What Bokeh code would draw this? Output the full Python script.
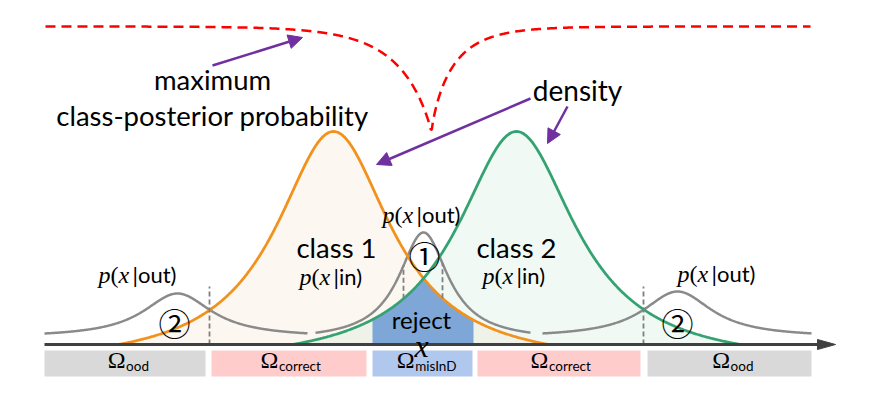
import numpy as np
from bokeh.plotting import figure
from bokeh.models import Range1d, Arrow, NormalHead
from bokeh.core.properties import value
from bokeh.embed import file_html
from bokeh.resources import INLINE

# ---------------- data (schematic densities, x in diagram units) ----------------
class_names = ["class 1", "class 2"]
class_centers = [333, 516]
class_peaks = [213, 213]
class_scales = [70, 72]
class_supports = [215, 224]

out_centers = [177, 423, 677]
out_peaks = [51, 112, 53]
out_scales = [42, 30, 42]
out_floors = [7, 4, 7]
out_left = [44, 315, 542]
out_right = [307, 530, 811]

region_names = ["ood", "correct", "misInD", "correct", "ood"]
region_start = [44, 211, 372, 477, 647]
region_end = [205, 366, 472, 640, 811]

reject_interval = [372, 473]
ood_thresholds = [209, 643]
mis_thresholds = [403, 442]

posterior_cusp = 431
posterior_top = 318
posterior_depth = 106
posterior_scales = [34, 22]
posterior_shapes = [0.9, 0.83]
posterior_span = [45, 810]

# ---------------- styles ----------------
ORANGE = "#f2911b"
GREEN = "#35a272"
ORANGE_FILL = "#f4d7b4"
GREEN_FILL = "#b5e3c8"
GRAY = "#8a8a8a"
PURPLE = "#7030a0"
REJECT = "#7ea6d7"
AXIS = "#404040"
region_colors = {"ood": "#d9d9d9", "correct": "#ffcccc", "misInD": "#b1c8ee"}
SANS = "Lato"
SERIF = "Liberation Serif"
TY = 8  # vertical text offset


def class_density(x, c, peak, scale, support):
    k = 1.0 / (1.0 + (support / scale) ** 2)
    a = peak / (1.0 - k)
    y = a / (1.0 + ((x - c) / scale) ** 2) - k * a
    return np.clip(y, 0, None)


def out_density(x, c, peak, scale, floor):
    return floor + (peak - floor) / (1.0 + ((x - c) / scale) ** 2)


def f_class(i, x):
    return class_density(x, class_centers[i], class_peaks[i], class_scales[i], class_supports[i])


def f_out(i, x):
    return out_density(x, out_centers[i], out_peaks[i], out_scales[i], out_floors[i])


p = figure(width=855, height=380, x_range=Range1d(0, 855), y_range=Range1d(-36, 344),
           output_backend="svg", toolbar_location=None, min_border=0,
           background_fill_color="white", border_fill_color="white")
p.axis.visible = False
p.grid.visible = False
p.outline_line_color = None

# class fills
fill_cols = [ORANGE_FILL, GREEN_FILL]
fill_alphas = [0.19, 0.2]
for i in range(2):
    xs = np.linspace(class_centers[i] - class_supports[i], class_centers[i] + class_supports[i], 500)
    p.varea(x=xs, y1=0, y2=f_class(i, xs), fill_color=fill_cols[i], fill_alpha=fill_alphas[i])

# reject region
xr = np.linspace(reject_interval[0], reject_interval[1], 300)
p.varea(x=xr, y1=0, y2=np.minimum(f_class(0, xr), f_class(1, xr)), fill_color=REJECT)

# out densities
for i in range(3):
    xs = np.linspace(out_left[i], out_right[i], 400)
    p.line(xs, f_out(i, xs), line_color=GRAY, line_width=2.5)

# class density lines
line_cols = [ORANGE, GREEN]
for i in range(2):
    xs = np.linspace(class_centers[i] - class_supports[i], class_centers[i] + class_supports[i], 600)
    p.line(xs, f_class(i, xs), line_color=line_cols[i], line_width=2.8)

# dashed thresholds
for xt in ood_thresholds:
    p.line([xt, xt], [0, 58], line_color="#7f7f7f", line_width=1.8, line_dash="5 3")
for xt in mis_thresholds:
    lo = float(min(f_class(0, xt), f_class(1, xt)))
    hi = float(f_out(1, xt))
    p.line([xt, xt], [lo, hi], line_color="#7f7f7f", line_width=1.8, line_dash="5 3")

# max class posterior (red dashed)
xp = np.linspace(posterior_span[0], posterior_span[1], 900)
d = xp - posterior_cusp
w = np.where(d < 0, posterior_scales[0], posterior_scales[1])
sh = np.where(d < 0, posterior_shapes[0], posterior_shapes[1])
yp = posterior_top - posterior_depth * np.exp(-(np.abs(d) / w) ** sh)
p.line(xp, yp, line_color="#ff0000", line_width=2.5, line_dash="10 6")

# x axis with arrow head
p.line([44, 820], [0, 0], line_color=AXIS, line_width=3)
p.patch([817, 835, 817], [-5, 0, 5], fill_color=AXIS, line_color=AXIS, line_width=1)

# region bars
for name, a, b in zip(region_names, region_start, region_end):
    p.quad(left=a, right=b, bottom=-32, top=-6, fill_color=region_colors[name], line_color=None)


def txt(x, y, s, font=SANS, size=26, align="center", style="normal", baseline="alphabetic", color="black"):
    p.text(x=[x], y=[y], text=[s], text_font=value(font), text_font_size=value(f"{size}px"),
           text_align=align, text_baseline=baseline, text_font_style=style, text_color=color)


# Omega labels
for name, a, b in zip(region_names, region_start, region_end):
    c = (a + b) / 2 - (len(name) * 5.6 - 18) / 2
    txt(c, -23 + TY, "\u03a9", font=SERIF, size=24, align="right")
    txt(c + 0.5, -29 + TY, name, font=SANS, size=13.5, align="left")


def p_of(x0, y0, cond, size=22):
    s = size
    ss = size + 2
    y0 = y0 + TY
    txt(x0, y0, "p", font=SERIF, size=ss, align="left", style="italic")
    x1 = x0 + 0.5 * ss
    txt(x1, y0, "(", font=SERIF, size=ss, align="left")
    x2 = x1 + 0.333 * ss
    txt(x2, y0, "x", font=SERIF, size=ss, align="left", style="italic")
    x3 = x2 + 0.444 * ss + 0.15 * s
    txt(x3, y0, "|" + cond + ")", font=SANS, size=s, align="left")


p_of(98, 62, "out")
p_of(382, 122, "out")
p_of(677, 63, "out")
p_of(299, 60, "in")
p_of(482, 61, "in")

# class labels
txt(class_centers[0] + 3, 89 + TY, class_names[0], size=27.5)
txt(class_centers[1], 89 + TY, class_names[1], size=27.5)

txt(421, 17 + TY, "reject", size=24)
txt(421, -9 + TY, "x", font=SERIF, size=32, style="italic")

# circled markers
txt(174, 23, "\u2461", font="Noto Sans CJK JP", size=32, baseline="middle")
txt(677, 23, "\u2461", font="Noto Sans CJK JP", size=32, baseline="middle")
txt(424, 90, "\u2460", font="Noto Sans CJK JP", size=32, baseline="middle")

# annotations
txt(212, 257 + TY, "maximum", size=27.5)
txt(212, 221 + TY, "class-posterior probability", size=27.5)
txt(577, 247 + TY, "density", size=28)

for (xs_, ys_, xe_, ye_) in [(212, 279, 302, 307), (530, 246, 376, 180), (567, 238, 547, 201)]:
    p.add_layout(Arrow(end=NormalHead(size=14, fill_color=PURPLE, line_color=PURPLE),
                       x_start=xs_, y_start=ys_, x_end=xe_, y_end=ye_,
                       line_color=PURPLE, line_width=2.5))

open("out.html", "w").write(file_html(p, INLINE))
